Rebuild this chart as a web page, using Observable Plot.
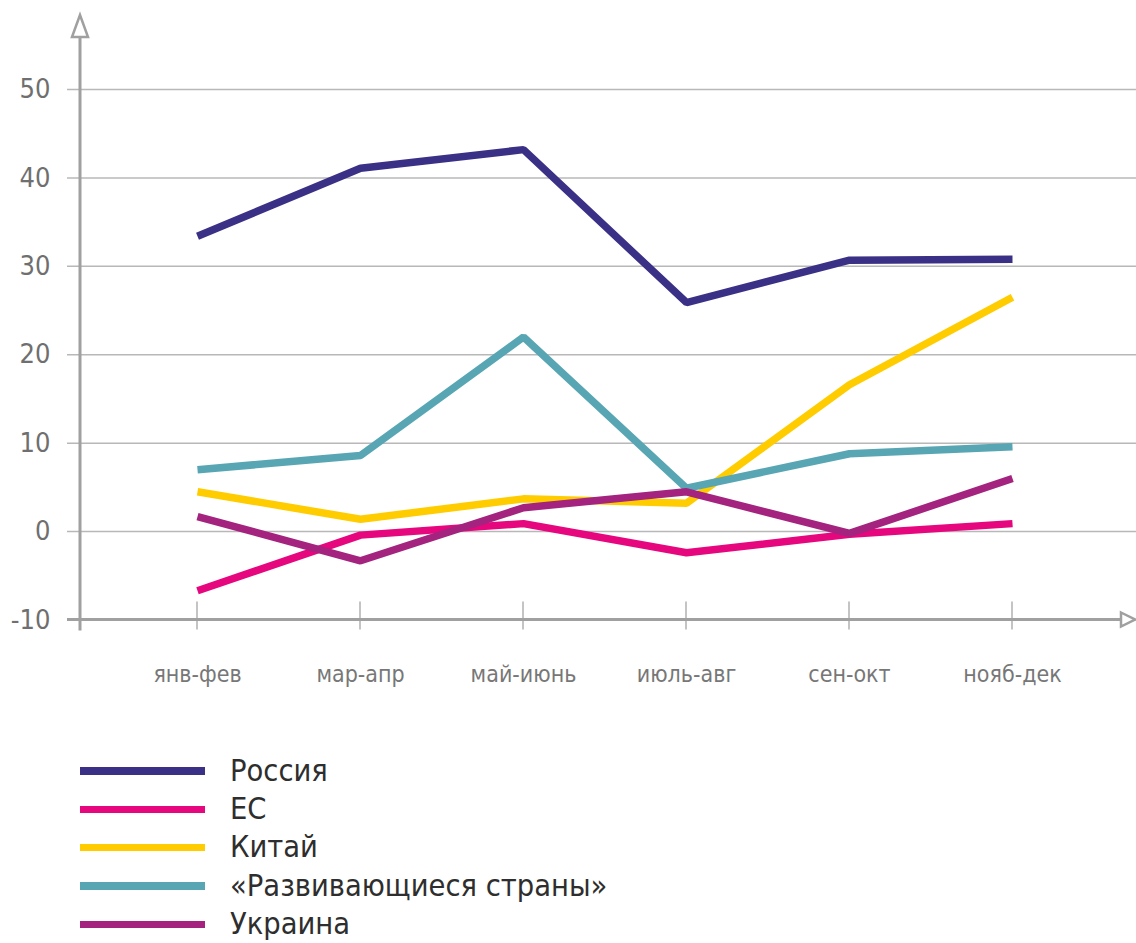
<!DOCTYPE html>
<html>
<head>
<meta charset="utf-8">
<script src="https://cdn.jsdelivr.net/npm/d3@7"></script>
<script src="https://cdn.jsdelivr.net/npm/@observablehq/plot@0.6"></script>
<style>
  html, body { margin: 0; padding: 0; background: #fff; }
  #wrap { width: 1136px; }
  #wrap svg { display: block; }
  #legend { padding-top: 52px; font-family: "DejaVu Sans Condensed", "DejaVu Sans", sans-serif; }
  .row { display: flex; align-items: center; height: 38.3px; }
  .sw { flex: none; width: 125px; height: 7.5px; margin-left: 80px; margin-right: 25px; }
  .lab { font-size: 30.5px; color: #2e2e2e; line-height: 1; white-space: nowrap; }
</style>
</head>
<body>
<div id="wrap"></div>
<div id="legend"></div>
<script>
const periods = ["янв-фев", "мар-апр", "май-июнь", "июль-авг", "сен-окт", "нояб-дек"];
const seriesNames = ["Россия", "ЕС", "Китай", "«Развивающиеся страны»", "Украина"];
const seriesColors = ["#3a3085", "#e6077f", "#ffcc00", "#58a6b3", "#a3237e"];
const russia = [33.4, 41.1, 43.2, 25.9, 30.7, 30.8];
const eu = [-6.7, -0.4, 0.9, -2.4, -0.3, 0.9];
const china = [4.5, 1.4, 3.7, 3.2, 16.6, 26.5];
const developing = [7.0, 8.6, 22.0, 4.9, 8.8, 9.6];
const ukraine = [1.7, -3.3, 2.7, 4.5, -0.2, 6.0];
const yTicks = [-10, 0, 10, 20, 30, 40, 50];

const seriesValues = [russia, eu, china, developing, ukraine];
const data = [];
seriesNames.forEach((s, i) => periods.forEach((p, j) => data.push({series: s, period: p, value: seriesValues[i][j]})));

const font = "'DejaVu Sans Condensed', 'DejaVu Sans', sans-serif";
const chart = Plot.plot({
  width: 1136,
  height: 700,
  marginLeft: 67,
  marginRight: 0,
  marginTop: 89,
  marginBottom: 80.5,
  style: {fontFamily: font, background: "transparent", overflow: "visible"},
  x: {type: "point", domain: periods, range: [197, 1012], padding: 0},
  y: {domain: [-10, 50]},
  color: {domain: seriesNames, range: seriesColors},
  marks: [
    Plot.ruleY(yTicks, {stroke: "#b8b8b8", strokeWidth: 1.5}),
    Plot.axisY({ticks: yTicks, tickSize: 0, tickPadding: 17, fontSize: 27, fill: "#6f6f6f", label: null, tickFormat: d => String(d)}),
    Plot.axisX({tickSize: 0, tickPadding: 46, fontSize: 23, fill: "#777", label: null}),
    Plot.line(data, {x: "period", y: "value", z: "series", stroke: "series", strokeWidth: 7.5, strokeLinejoin: "miter", strokeLinecap: "butt"})
  ]
});
document.getElementById("wrap").appendChild(chart);

// axis decorations (lines, ticks, arrows) using the chart's scales
const xs = chart.scale("x"), ys = chart.scale("y");
const svg = d3.select(chart);
const g = svg.insert("g", "g[aria-label='line']").attr("stroke", "#a0a0a0").attr("fill", "none");
const y0 = ys.apply(-10);
periods.forEach(p => {
  const x = xs.apply(p);
  g.append("line").attr("x1", x).attr("x2", x).attr("y1", y0 - 18).attr("y2", y0 + 10).attr("stroke-width", 1.5).attr("stroke", "#b0b0b0");
});
g.append("line").attr("x1", 67).attr("x2", 1122).attr("y1", y0).attr("y2", y0).attr("stroke-width", 3);
g.append("line").attr("x1", 80).attr("x2", 80).attr("y1", 37).attr("y2", y0 + 11).attr("stroke-width", 3);
g.append("path").attr("d", "M72,37 L80,15 L88,37 Z").attr("fill", "#fff").attr("stroke-width", 2.5);
g.append("path").attr("d", `M1121,${y0 - 7} L1135,${y0} L1121,${y0 + 7} Z`).attr("fill", "#fff").attr("stroke-width", 2.5);

// legend
const legend = document.getElementById("legend");
seriesNames.forEach((s, i) => {
  const row = document.createElement("div");
  row.className = "row";
  const sw = document.createElement("div");
  sw.className = "sw";
  sw.style.background = seriesColors[i];
  const lab = document.createElement("div");
  lab.className = "lab";
  lab.textContent = s;
  row.appendChild(sw);
  row.appendChild(lab);
  legend.appendChild(row);
});
</script>
</body>
</html>
